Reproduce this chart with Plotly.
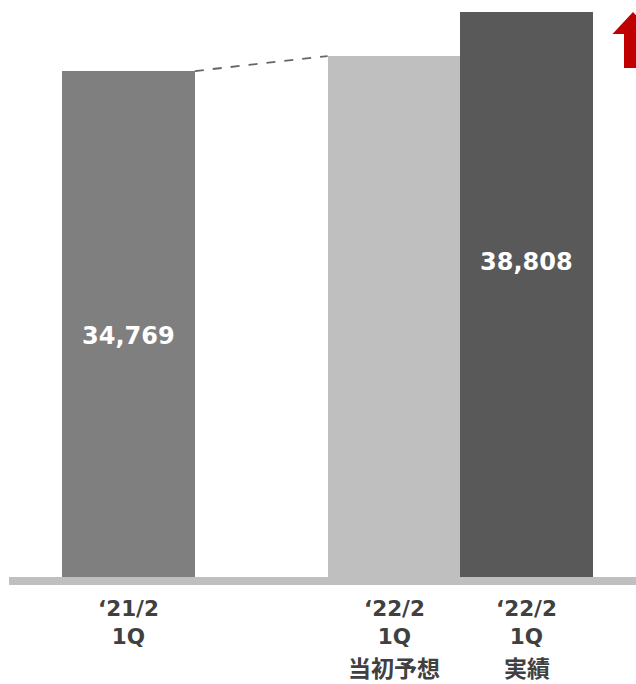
import plotly.graph_objects as go

# ---- data ----
categories = ["‘21/2<br>1Q", "‘22/2<br>1Q", "‘22/2<br>1Q"]
sublabels = ["", "当初予想", "実績"]
positions = [0, 2, 3]
values = [34769, 35800, 38808]
value_labels = ["34,769", "", "38,808"]
colors = ["#7f7f7f", "#bfbfbf", "#595959"]

# ---- style ----
W, H = 636, 684
PLOT_H = 577
Y_MAX = 39650
X_RANGE = [-0.968, 3.823]
label_y = [16560, None, 21680]
TXT = "#404040"

fig = go.Figure()
fig.add_trace(go.Bar(
    x=positions, y=values, width=1.0,
    marker=dict(color=colors, line=dict(width=0)),
    hoverinfo="skip", showlegend=False,
))

# value labels
for xp, ly, t in zip(positions, label_y, value_labels):
    if t and ly is not None:
        fig.add_annotation(x=xp, y=ly, xref="x", yref="y", text=t, showarrow=False,
                           font=dict(family="DejaVu Sans", size=24, color="white", weight="bold"),
                           xanchor="center", yanchor="middle")

# category labels
for xp, t in zip(positions, categories):
    fig.add_annotation(x=xp, y=0, xref="x", yref="paper", text=t, showarrow=False,
                       font=dict(family="DejaVu Sans, Noto Sans CJK JP", size=21.5, color=TXT, weight="bold"),
                       xanchor="center", yanchor="top", yshift=-18, align="center", borderpad=0)
for xp, t in zip(positions, sublabels):
    if t:
        fig.add_annotation(x=xp, y=0, xref="x", yref="paper", text=t, showarrow=False,
                           font=dict(family="Noto Sans CJK JP", size=23, color=TXT, weight="bold"),
                           xanchor="center", yanchor="top", yshift=-72, align="center", borderpad=0)

# dashed connector
fig.add_shape(type="line", xref="x", yref="y",
              x0=positions[0] + 0.5, y0=values[0], x1=positions[1] - 0.5, y1=values[1],
              line=dict(color="#666666", width=1.8, dash="dash"))

# baseline
fig.add_shape(type="rect", xref="paper", yref="paper",
              x0=9 / W, x1=1.0, y0=0, y1=-8 / PLOT_H,
              fillcolor="#bfbfbf", line=dict(width=0), layer="above")

# red arrow (partially visible on right)
def P(px, py):
    return f"{px / W:.5f},{(PLOT_H - py) / PLOT_H:.5f}"
path = ("M " + P(612.5, 34) + " L " + P(633, 12) + " L " + P(654, 34) + " L " + P(643, 34)
        + " L " + P(643, 68) + " L " + P(624, 68) + " L " + P(624, 34) + " Z")
fig.add_shape(type="path", xref="paper", yref="paper", path=path,
              fillcolor="#c00000", line=dict(width=0))

fig.update_layout(
    width=W, height=H,
    margin=dict(l=0, r=0, t=0, b=H - PLOT_H),
    plot_bgcolor="white", paper_bgcolor="white",
    bargap=0,
    xaxis=dict(range=X_RANGE, visible=False, fixedrange=True),
    yaxis=dict(range=[0, Y_MAX], visible=False, fixedrange=True),
)

fig.write_html("out.html")
